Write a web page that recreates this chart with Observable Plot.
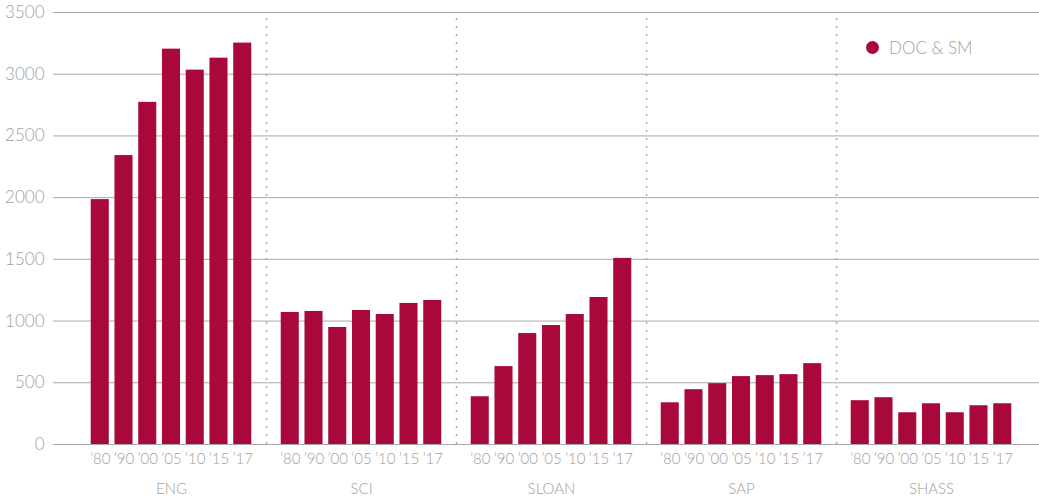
<!DOCTYPE html>
<html><head><meta charset="utf-8">
<script src="https://cdn.jsdelivr.net/npm/d3@7"></script>
<script src="https://cdn.jsdelivr.net/npm/@observablehq/plot@0.6"></script>
<style>
body{margin:0;background:#fff;}
#chart{position:relative;width:1039px;height:504px;}
.legend{position:absolute;left:866px;top:37px;display:flex;align-items:center;font-family:Lato,"Open Sans",sans-serif;font-weight:300;font-size:17px;color:#a0a0a0;}
.legend .sw{width:13px;height:13px;border-radius:50%;background:#a8083a;margin-right:10px;}
</style></head><body><div id="chart"></div>
<script>
const schools = ["ENG", "SCI", "SLOAN", "SAP", "SHASS"];
const years = ["’80", "’90", "’00", "’05", "’10", "’15", "’17"];
const eng   = [1984, 2341, 2772, 3203, 3033, 3130, 3252];
const sci   = [1070, 1078, 948, 1086, 1053, 1143, 1167];
const sloan = [387, 631, 899, 964, 1053, 1191, 1508];
const sap   = [338, 444, 493, 550, 558, 566, 655];
const shass = [355, 379, 257, 330, 257, 314, 330];
const yTicks = [0, 500, 1000, 1500, 2000, 2500, 3000, 3500];
const legendLabel = "DOC & SM";

const series = [eng, sci, sloan, sap, shass];
const data = [];
schools.forEach((s, i) => years.forEach((yr, j) => data.push({school: s, year: yr, key: s + "|" + yr, value: series[i][j]})));
const domain = [];
const seps = [];
schools.forEach((s, i) => {
  if (i > 0) { domain.push("sep" + i); seps.push("sep" + i); }
  years.forEach(yr => domain.push(s + "|" + yr));
});
const midYear = years[3];
const font = 'Lato, "Open Sans", sans-serif';
const gray = "#a0a0a0";

const chart = Plot.plot({
  width: 1039,
  height: 504,
  marginLeft: 53,
  marginRight: 0,
  marginTop: 12,
  marginBottom: 60,
  style: {fontFamily: font, fontWeight: 300, fontSize: "16px", color: gray, background: "#fff"},
  x: {type: "band", domain, paddingInner: 0.24, paddingOuter: 0.62, insetLeft: 23, insetRight: 13, round: false},
  y: {domain: [0, 3500]},
  marks: [
    Plot.gridY(yTicks, {stroke: "#a8a8a8", strokeOpacity: 1, strokeWidth: 1}),
    Plot.ruleX(seps, {x: d => d, stroke: "#a8a8a8", strokeWidth: 1.5, strokeDasharray: "2,6", insetTop: 6}),
    Plot.barY(data, {x: "key", y: "value", fill: "#a8083a"}),
    Plot.axisY({ticks: yTicks, tickSize: 0, tickPadding: 9, tickFormat: d => String(d), fontSize: 17, fill: gray, label: null}),
    Plot.axisX({ticks: data.map(d => d.key), tickSize: 0, tickPadding: 9, tickFormat: d => d.split("|")[1], fontSize: 15, fill: gray, label: null}),
    Plot.text(schools, {x: s => s + "|" + midYear, y: 0, dy: 45, text: d => d, fill: gray, fontSize: 15})
  ]
});
const el = document.getElementById("chart");
el.appendChild(chart);
const lg = document.createElement("div");
lg.className = "legend";
lg.innerHTML = '<span class="sw"></span><span></span>';
lg.lastChild.textContent = legendLabel;
el.appendChild(lg);
</script></body></html>
